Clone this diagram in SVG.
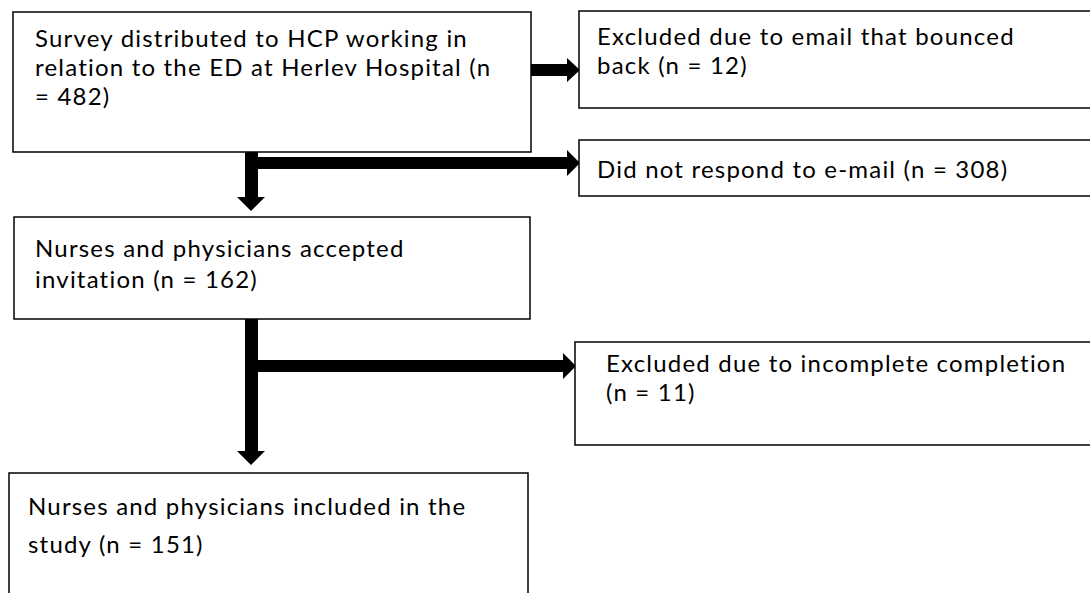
<svg xmlns="http://www.w3.org/2000/svg" width="1090" height="593" viewBox="0 0 1090 593">
<style>
.box{fill:#fff;stroke:#000;stroke-width:1.5}
.t{font-family:Lato,"Open Sans","Liberation Sans",sans-serif;font-size:24px;letter-spacing:1.2px;fill:#000}
.arr{fill:#000;stroke:none}
</style>
<rect width="1090" height="593" fill="#fff"/>
<g id="connectors">
<polygon class="arr" points="494,64 567,64 567,58 580,70 567,82 567,76 494,76"/>
<rect class="arr" x="245" y="152" width="13" height="45"/>
<polygon class="arr" points="237,197 265,197 251,211"/>
<polygon class="arr" points="258,157 567,157 567,150 580,163 567,176 567,169 258,169"/>
<rect class="arr" x="245" y="319" width="13" height="132"/>
<polygon class="arr" points="237,451 265,451 251,465"/>
<polygon class="arr" points="258,360 563,360 563,353 576,366 563,379 563,372 258,372"/>
</g>
<g id="n1">
<rect class="box" x="13" y="12" width="518" height="140"/>
<text class="t" x="35" y="47">Survey distributed to HCP working in</text>
<text class="t" x="35" y="76">relation to the ED at Herlev Hospital (n</text>
<text class="t" x="35" y="105">= 482)</text>
</g>
<g id="n2">
<rect class="box" x="579" y="11" width="520" height="97"/>
<text class="t" x="597" y="45">Excluded due to email that bounced</text>
<text class="t" x="597" y="74">back (n = 12)</text>
</g>
<g id="n3">
<rect class="box" x="579" y="140" width="520" height="56"/>
<text class="t" x="597" y="178">Did not respond to e-mail (n = 308)</text>
</g>
<g id="n4">
<rect class="box" x="14" y="217" width="516" height="102"/>
<text class="t" x="35" y="257">Nurses and physicians accepted</text>
<text class="t" x="35" y="288">invitation (n = 162)</text>
</g>
<g id="n5">
<rect class="box" x="575" y="342" width="520" height="103"/>
<text class="t" x="606" y="372">Excluded due to incomplete completion</text>
<text class="t" x="606" y="401">(n = 11)</text>
</g>
<g id="n6">
<rect class="box" x="9" y="473" width="519" height="140"/>
<text class="t" x="28" y="515">Nurses and physicians included in the</text>
<text class="t" x="28" y="553">study (n = 151)</text>
</g>
</svg>
